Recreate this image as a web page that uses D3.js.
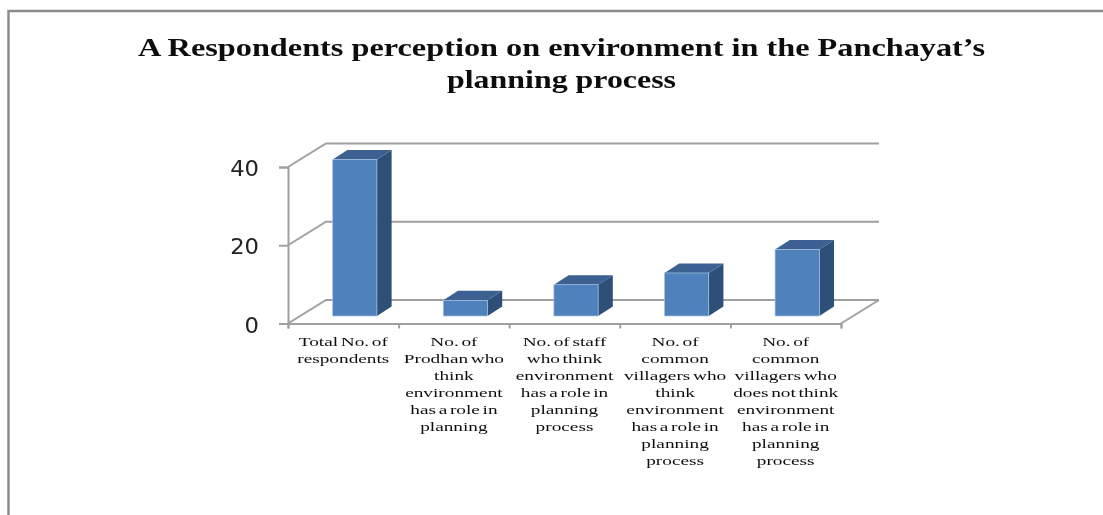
<!DOCTYPE html>
<html><head><meta charset="utf-8">
<script src="https://cdn.jsdelivr.net/npm/d3@7"></script>
<style>html,body{margin:0;padding:0;background:#fff;overflow:hidden}svg{display:block}</style>
</head><body><svg id="c" width="1103" height="515"></svg>
<script>
const titleLines = ["A Respondents perception on environment in the Panchayat’s", "planning process"];
const categories = ["total", "prodhan", "staff", "villagersYes", "villagersNo"];
const values = [40, 4, 8, 11, 17];
const categoryLabels = [
  ["Total No. of", "respondents"],
  ["No. of", "Prodhan who", "think", "environment", "has a role in", "planning"],
  ["No. of staff", "who think", "environment", "has a role in", "planning", "process"],
  ["No. of", "common", "villagers who", "think", "environment", "has a role in", "planning", "process"],
  ["No. of", "common", "villagers who", "does not think", "environment", "has a role in", "planning", "process"]
];
const yTicks = [0, 20, 40];

const svg = d3.select("#c");
const soft = svg.append("defs").append("filter").attr("id", "soft")
  .attr("x", "-5%").attr("y", "-5%").attr("width", "110%").attr("height", "110%");
soft.append("feGaussianBlur").attr("stdDeviation", 0.4);
const root = svg.append("g").attr("filter", "url(#soft)");

const grey = "#a0a0a0";
const plot = {left: 288, right: 841, bottom: 323.5, top: 167, dx: 38, dy: -23.5};
const x = d3.scaleBand().domain(categories).range([plot.left, plot.right]).paddingInner(0.6).paddingOuter(0.3);
const xEdge = d3.scaleLinear().domain([0, categories.length]).range([plot.left, plot.right]);
const y = d3.scaleLinear().domain([0, 40]).range([plot.bottom, plot.top]);

// frame
root.append("path").attr("d", "M8.5,515V11H1103").attr("fill", "none").attr("stroke", "#8c8c8c").attr("stroke-width", 2.5);

// title
root.append("g").selectAll("text").data(titleLines).join("text")
  .attr("x", 561.5).attr("y", (d, i) => 56 + i * 32)
  .attr("text-anchor", "middle")
  .attr("font-family", "'Liberation Serif', serif").attr("font-weight", "bold").attr("font-size", 26)
  .attr("fill", "#111")
  .attr("textLength", (d, i) => i === 0 ? 847 : 229).attr("lengthAdjust", "spacingAndGlyphs")
  .text(d => d);

// walls
const wall = root.append("g").attr("fill", "none").attr("stroke", grey).attr("stroke-width", 2);
yTicks.forEach(t => {
  wall.append("path").attr("d", d3.line()([
    [plot.left, y(t)], [plot.left + plot.dx, y(t) + plot.dy], [plot.right + plot.dx, y(t) + plot.dy]
  ]));
});
wall.append("path").attr("d", d3.line()([
  [plot.right + plot.dx, y(0) + plot.dy], [plot.right, y(0)]
]));

// axes
const yAxis = d3.axisLeft(y).tickValues(yTicks).tickSize(9).tickFormat("");
const gy = root.append("g").attr("transform", `translate(${plot.left},0)`).call(yAxis);
const xAxis = d3.axisBottom(xEdge).tickValues(d3.range(categories.length + 1)).tickSize(5).tickFormat("");
const gx = root.append("g").attr("transform", `translate(0,${plot.bottom})`).call(xAxis);
[gy, gx].forEach(g => {
  g.selectAll("path,line").attr("stroke", grey).attr("stroke-width", 2);
  g.select(".domain").attr("fill", "none");
});

// y labels
root.append("g").selectAll("text").data(yTicks).join("text")
  .attr("transform", d => `translate(259,${y(d) + 9}) scale(1.08,1)`)
  .attr("text-anchor", "end")
  .attr("font-family", "'DejaVu Sans', sans-serif").attr("font-size", 21)
  .attr("fill", "#222")
  .text(d => d);

// bars
const depth = {dx: 14.7, dy: -9.5};
const barShift = 11.5;
const base = y(0) - 7.5;
const h = d => y(0) - y(d);
const bars = root.append("g").attr("transform", `translate(${barShift},0)`)
  .selectAll("g").data(categories.map((c, i) => ({c, v: values[i]}))).join("g");
bars.append("path").attr("fill", "#2F5078")
  .attr("d", d => { const X = x(d.c) + x.bandwidth(), T = base - h(d.v);
    return d3.line()([[X, T], [X + depth.dx, T + depth.dy], [X + depth.dx, base + depth.dy], [X, base]]) + "Z"; });
bars.append("path").attr("fill", "#3A6191")
  .attr("d", d => { const X = x(d.c), W = x.bandwidth(), T = base - h(d.v);
    return d3.line()([[X, T], [X + depth.dx, T + depth.dy], [X + W + depth.dx, T + depth.dy], [X + W, T]]) + "Z"; });
bars.append("rect").attr("fill", "#4F81BD").attr("stroke", "#a9c3e3").attr("stroke-width", 0.7)
  .attr("x", d => x(d.c)).attr("width", x.bandwidth())
  .attr("y", d => base - h(d.v)).attr("height", d => h(d.v));

// category labels
const lab = root.append("g").selectAll("g").data(categories.map((c, i) => ({c, lines: categoryLabels[i]}))).join("g");
lab.selectAll("text").data(d => d.lines.map((t, i) => ({t, i, c: d.c}))).join("text")
  .attr("transform", d => `translate(${x(d.c) + x.bandwidth() / 2},${346 + d.i * 17}) scale(1.43,1)`)
  .attr("text-anchor", "middle")
  .attr("font-family", "'Liberation Serif', serif").attr("font-size", 13.5).attr("word-spacing", -1.5)
  .attr("fill", "#111")
  .text(d => d.t);
</script></body></html>
